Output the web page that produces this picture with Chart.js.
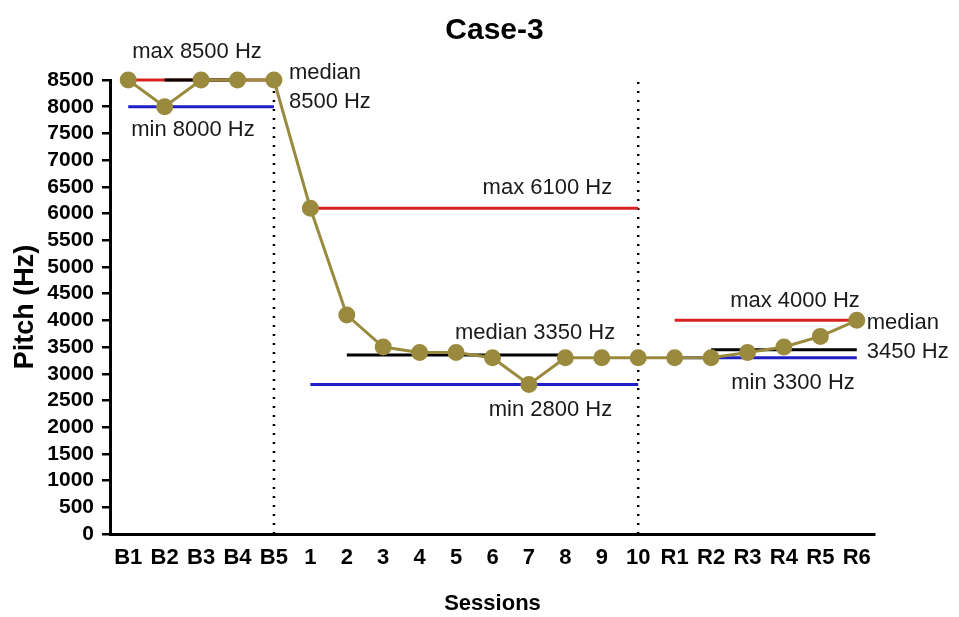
<!DOCTYPE html>
<html>
<head>
<meta charset="utf-8">
<script src="https://cdn.jsdelivr.net/npm/chart.js@4.4.1/dist/chart.umd.min.js"></script>
<style>
  html, body { margin: 0; padding: 0; background: #ffffff; }
  #wrap { width: 959px; height: 617px; }
</style>
</head>
<body>
<div id="wrap"><canvas id="c" width="959" height="617"></canvas></div>
<script>
// Sessions: baseline (B), treatment (1-10), retention (R)
const sessions = ['B1','B2','B3','B4','B5','1','2','3','4','5','6','7','8','9','10','R1','R2','R3','R4','R5','R6'];
const pitchHz  = [8500, 8000, 8500, 8500, 8500, 6100, 4100, 3500, 3400, 3400, 3300, 2800, 3300, 3300, 3300, 3300, 3300, 3400, 3500, 3700, 4000];

// Phase summary values (baseline, treatment, retention)
const phaseMax    = [8500, 6100, 4000];
const phaseMedian = [8500, 3350, 3450];
const phaseMin    = [8000, 2800, 3300];
const phaseSpan   = [['B1','B5'], ['1','10'], ['R1','R6']];
const medianSpan  = [['B2','B4'], ['2','8'], ['R2','R6']];

// Phase boundaries
const phaseBreaks = ['B5', '10'];

const yTicksMax = 8500;
const yStep = 500;

const chartTitle = 'Case-3';
const FONT = "'Liberation Sans', Arial, Helvetica, sans-serif";

function hLine(span, v, color, order) {
  return {
    data: [{x: span[0], y: v}, {x: span[1], y: v}],
    borderColor: color, borderWidth: 3, pointRadius: 0, pointHoverRadius: 0,
    fill: false, tension: 0, order: order, clip: false
  };
}

const datasets = [];
// pitch series on top
datasets.push({
  data: pitchHz,
  borderColor: '#9a8a3e', backgroundColor: '#9a8a3e',
  pointBackgroundColor: '#9a8a3e', pointBorderColor: '#9a8a3e',
  borderWidth: 3, pointRadius: 7, pointHoverRadius: 7,
  tension: 0, fill: false, order: 0, clip: false
});
for (let i = 0; i < 3; i++) {
  datasets.push(hLine(medianSpan[i], phaseMedian[i], '#000000', 1));
  datasets.push(hLine(phaseSpan[i], phaseMax[i], '#d92323', 2));
  datasets.push(hLine(phaseSpan[i], phaseMin[i], '#1f1fc8', 2));
}
phaseBreaks.forEach(b => {
  datasets.push({
    data: [{x: b, y: 0}, {x: b, y: yTicksMax}],
    borderColor: '#000000', borderWidth: 2.5, borderDash: [2, 7], borderCapStyle: 'butt',
    pointRadius: 0, pointHoverRadius: 0, fill: false, order: 3, clip: false
  });
});

// text labels for the phase summary lines
const notes = [
  {lines: ['max ' + phaseMax[0] + ' Hz'], at: 'B1', v: phaseMax[0], dx: 4, dy: -28, align: 'left'},
  {lines: ['median', phaseMedian[0] + ' Hz'], at: 'B5', v: phaseMedian[0], dx: 15, dy: -7, align: 'left'},
  {lines: ['min ' + phaseMin[0] + ' Hz'], at: 'B1', v: phaseMin[0], dx: 3, dy: 23, align: 'left'},
  {lines: ['max ' + phaseMax[1] + ' Hz'], at: '10', v: phaseMax[1], dx: -26, dy: -20, align: 'right'},
  {lines: ['median ' + phaseMedian[1] + ' Hz'], at: '10', v: phaseMedian[1], dx: -23, dy: -22, align: 'right'},
  {lines: ['min ' + phaseMin[1] + ' Hz'], at: '10', v: phaseMin[1], dx: -26, dy: 25, align: 'right'},
  {lines: ['max ' + phaseMax[2] + ' Hz'], at: 'R6', v: phaseMax[2], dx: 3, dy: -19, align: 'right'},
  {lines: ['median', phaseMedian[2] + ' Hz'], at: 'R6', v: phaseMedian[2], dx: 10, dy: -27, align: 'left'},
  {lines: ['min ' + phaseMin[2] + ' Hz'], at: 'R6', v: phaseMin[2], dx: -2, dy: 25, align: 'right'}
];

const notePlugin = {
  id: 'phaseNotes',
  afterDatasetsDraw(chart) {
    const {ctx, chartArea, scales: {x, y}} = chart;
    ctx.save();
    // title centred over the plot area
    ctx.font = 'bold 30px ' + FONT;
    ctx.fillStyle = '#000';
    ctx.textAlign = 'center';
    ctx.textBaseline = 'middle';
    ctx.fillText(chartTitle, (chartArea.left + chartArea.right) / 2 + 2, 31);

    ctx.font = '22px ' + FONT;
    ctx.fillStyle = '#1a1a1a';
    notes.forEach(n => {
      const px = x.getPixelForValue(sessions.indexOf(n.at)) + n.dx;
      const py = y.getPixelForValue(n.v) + n.dy;
      ctx.textAlign = n.align;
      n.lines.forEach((t, i) => ctx.fillText(t, px, py + i * 29));
    });
    ctx.restore();
  }
};

new Chart(document.getElementById('c'), {
  type: 'line',
  data: { labels: sessions, datasets: datasets },
  plugins: [notePlugin],
  options: {
    responsive: false,
    animation: false,
    events: [],
    layout: { padding: { left: 0, right: 84, top: 80, bottom: 0 } },
    plugins: {
      legend: { display: false },
      tooltip: { enabled: false },
      title: { display: false }
    },
    scales: {
      x: {
        type: 'category',
        offset: true,
        grid: { display: false, drawOnChartArea: false, drawTicks: true, tickLength: 5, color: '#444', lineWidth: 1.5 },
        border: { display: true, color: '#000', width: 3 },
        ticks: { color: '#000', font: { family: FONT, size: 22, weight: 'bold' }, padding: 6, autoSkip: false, maxRotation: 0 },
        title: { display: true, text: 'Sessions', color: '#000',
                 font: { family: FONT, size: 22, weight: 'bold', lineHeight: 1.2 },
                 padding: { top: 10, bottom: 0 } },
        afterFit(s) { s.height = 83; }
      },
      y: {
        min: 0, max: yTicksMax,
        grid: { display: true, drawOnChartArea: false, drawTicks: true, tickLength: 8, color: '#000', lineWidth: 2.5 },
        border: { display: true, color: '#000', width: 3 },
        ticks: { stepSize: yStep, autoSkip: false, color: '#000',
                 font: { family: FONT, size: 21, weight: 'bold' }, padding: 8,
                 callback: v => String(v) },
        title: { display: true, text: 'Pitch (Hz)', color: '#000',
                 font: { family: FONT, size: 27, weight: 'bold', lineHeight: 1.2 },
                 padding: { top: 9, bottom: 0 } },
        afterFit(s) { s.width = 110; }
      }
    }
  }
});
</script>
</body>
</html>
